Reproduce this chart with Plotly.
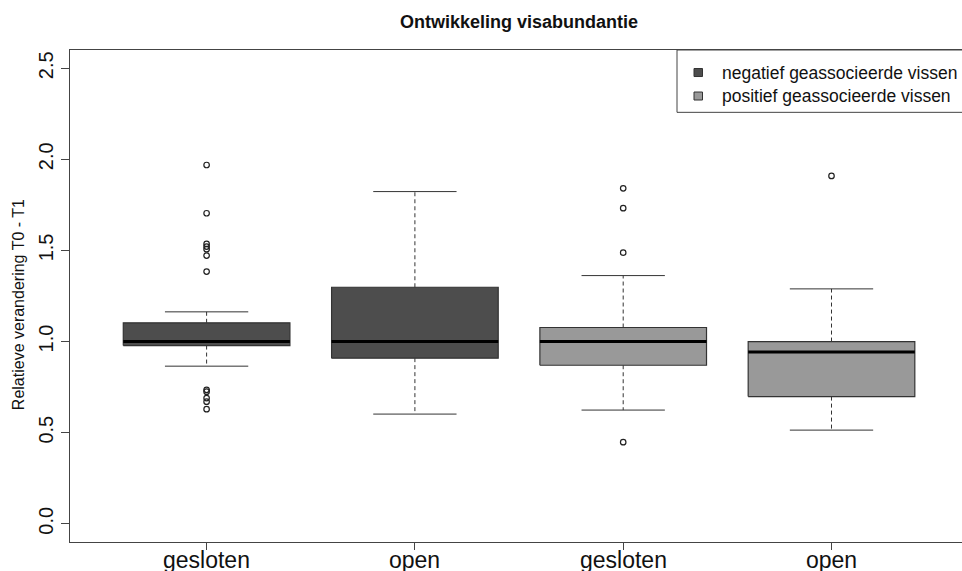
import plotly.graph_objects as go

# ---- data ----
tick_labels = ["gesloten", "open", "gesloten", "open"]
series_names = ["negatief geassocieerde vissen", "positief geassocieerde vissen"]
group_series = [0, 0, 1, 1]          # which series each box belongs to
lower_whisker = [0.865, 0.602, 0.624, 0.514]
q1 = [0.978, 0.909, 0.870, 0.698]
median = [1.000, 1.000, 1.000, 0.942]
q3 = [1.103, 1.298, 1.077, 1.000]
upper_whisker = [1.163, 1.823, 1.362, 1.289]
outliers = [
    [1.969, 1.704, 1.536, 1.521, 1.507, 1.472, 1.384, 0.735, 0.725, 0.690, 0.670, 0.629],
    [],
    [1.841, 1.732, 1.488, 0.448],
    [1.909],
]
y_ticks = [0.0, 0.5, 1.0, 1.5, 2.0, 2.5]

# ---- style ----
FONT = "Liberation Sans, Arial, Helvetica, sans-serif"
fills = ["#4d4d4d", "#999999"]
edge = "#333333"
axis_col = "#444444"
W, H = 962, 571
ML, MR, MT, MB = 70, 0, 50, 29.3
half_box = 0.4
half_cap = 0.2

fig = go.Figure()
for i in range(len(tick_labels)):
    p = i + 1
    col = fills[group_series[i]]
    # box body
    fig.add_trace(go.Scatter(
        x=[p - half_box, p + half_box, p + half_box, p - half_box, p - half_box],
        y=[q1[i], q1[i], q3[i], q3[i], q1[i]],
        mode="lines", fill="toself", fillcolor=col,
        line=dict(color=edge, width=1.2), hoverinfo="skip", showlegend=False))
    # whiskers (dashed)
    fig.add_trace(go.Scatter(
        x=[p, p, None, p, p],
        y=[q3[i], upper_whisker[i], None, q1[i], lower_whisker[i]],
        mode="lines", line=dict(color=edge, width=1, dash="4px,3px"),
        hoverinfo="skip", showlegend=False))
    # caps
    fig.add_trace(go.Scatter(
        x=[p - half_cap, p + half_cap, None, p - half_cap, p + half_cap],
        y=[upper_whisker[i], upper_whisker[i], None, lower_whisker[i], lower_whisker[i]],
        mode="lines", line=dict(color=edge, width=1),
        hoverinfo="skip", showlegend=False))
    # median
    fig.add_trace(go.Scatter(
        x=[p - half_box, p + half_box], y=[median[i], median[i]],
        mode="lines", line=dict(color="#000000", width=3),
        hoverinfo="skip", showlegend=False))
    # outliers
    if outliers[i]:
        fig.add_trace(go.Scatter(
            x=[p] * len(outliers[i]), y=outliers[i], mode="markers",
            marker=dict(symbol="circle-open", size=5.5, color="#222222",
                        line=dict(width=1.2)),
            hoverinfo="skip", showlegend=False))

plot_w = W - ML - MR
plot_h = H - MT - MB
px_per_unit = 208.3
x0 = 1 - (206.6 - ML) / px_per_unit
x1 = x0 + plot_w / px_per_unit


def px(xpix):
    """reference-screenshot x pixel -> paper coordinate"""
    return (xpix - ML) / plot_w


def py(ypix):
    """reference-screenshot y pixel -> paper coordinate"""
    return (H - MB - ypix) / plot_h


shapes = []
annotations = []
# legend box (extends past the right edge like the reference)
shapes.append(dict(type="rect", xref="paper", yref="paper",
                   x0=px(677), x1=px(975), y0=py(112.3), y1=py(50),
                   line=dict(color=axis_col, width=1), fillcolor="white", layer="above"))
rows_y = [72.5, 96.0]
for k, name in enumerate(series_names):
    yc = rows_y[k]
    shapes.append(dict(type="rect", xref="paper", yref="paper",
                       x0=px(694), x1=px(702.5), y0=py(yc + 4), y1=py(yc - 4),
                       line=dict(color=edge, width=1), fillcolor=fills[k], layer="above"))
    annotations.append(dict(text=name, xref="paper", yref="paper",
                            x=px(719.5), y=py(yc), xanchor="left", yanchor="middle",
                            showarrow=False,
                            font=dict(family=FONT, size=17.5, color="#111111")))

# x tick labels (placed close to the axis as in the reference)
for i, lab in enumerate(tick_labels):
    annotations.append(dict(text=lab, xref="x", yref="paper", x=i + 1, y=py(560),
                            xanchor="center", yanchor="middle", showarrow=False,
                            font=dict(family=FONT, size=23, color="#111111")))

# y-axis title
annotations.append(dict(text="Relatieve verandering T0 - T1", xref="paper", yref="paper",
                        x=px(18), y=py(305), textangle=-90, showarrow=False,
                        xanchor="center", yanchor="middle",
                        font=dict(family=FONT, size=16, color="#111111")))

fig.update_layout(
    width=W, height=H,
    margin=dict(l=ML, r=MR, t=MT, b=MB, pad=0),
    paper_bgcolor="white", plot_bgcolor="white",
    title=dict(text="<b>Ontwikkeling visabundantie</b>", x=px(519), xref="paper",
               xanchor="center", y=1 - 22 / H, yanchor="middle", automargin=False,
               font=dict(family=FONT, size=18, color="#111111")),
    xaxis=dict(range=[x0, x1], tickmode="array",
               tickvals=[i + 1 for i in range(len(tick_labels))],
               showticklabels=False, automargin=False,
               showgrid=False, zeroline=False, showline=True, mirror=True,
               linecolor=axis_col, linewidth=1, ticks="outside", ticklen=7,
               tickcolor=axis_col),
    yaxis=dict(range=[-0.1, 2.6], tickmode="array", tickvals=y_ticks,
               ticktext=[f"{v:.1f}" for v in y_ticks], tickangle=-90, automargin=False,
               showgrid=False, zeroline=False, showline=True, mirror=False,
               linecolor=axis_col, linewidth=1, ticks="outside", ticklen=8,
               tickcolor=axis_col, tickfont=dict(family=FONT, size=20, color="#111111")),
    shapes=shapes, annotations=annotations,
)

# place the figure at the page origin (no default body margin / scrollbars)
fig.write_html(
    "out.html",
    config={"displayModeBar": False},
    post_script="document.body.style.margin='0';"
                "document.documentElement.style.overflow='hidden';"
                "document.body.style.overflow='hidden';",
)
